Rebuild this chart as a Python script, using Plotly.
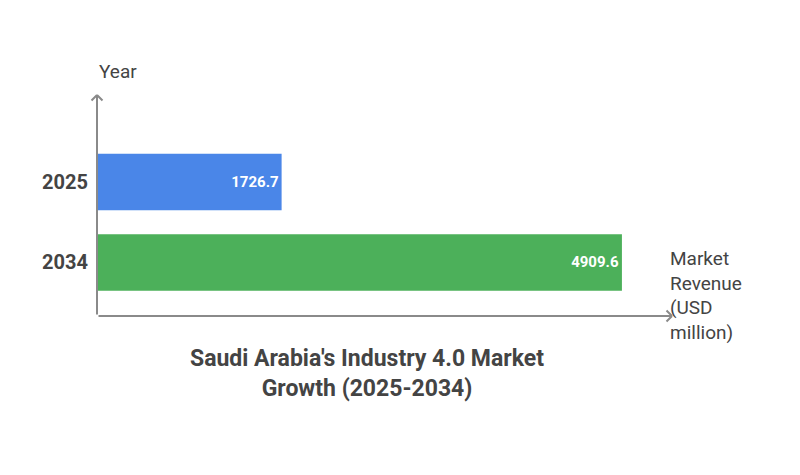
import plotly.graph_objects as go

years = ["2034", "2025"]
revenue = [4909.6, 1726.7]
bar_colors = ["#4cb05a", "#4a86e8"]
labels = ["4909.6", "1726.7"]

fig = go.Figure()
fig.add_trace(go.Bar(
    x=revenue, y=[0, 1], orientation="h", width=0.7,
    marker_color=bar_colors, marker_line_width=0,
    text=labels, textposition="inside", insidetextanchor="end",
    textfont=dict(family="Roboto", size=15, color="white", weight="bold"),
    cliponaxis=False,
))

axis_col = "#8a8a8a"
fig.update_layout(
    width=800, height=475,
    margin=dict(l=89, r=136, t=87, b=167),
    paper_bgcolor="white", plot_bgcolor="white",
    showlegend=False,
    font=dict(family="Roboto", color="#444"),
    xaxis=dict(range=[0, 5378], showgrid=False, zeroline=False,
               showticklabels=False, showline=False),
    yaxis=dict(range=[-0.665, 2.08], showgrid=False, zeroline=False,
               tickmode="array", tickvals=[0, 1], ticktext=years,
               tickfont=dict(size=20, color="#444", weight="bold"),
               ticks="", ticklen=0, showline=False, ticklabelstandoff=8),
)

# axes with arrows
fig.add_annotation(x=1.0, y=0, xref="paper", yref="paper", ax=-575, ay=0,
                   showarrow=True, arrowhead=0, arrowwidth=2, arrowcolor=axis_col, text="")
fig.add_annotation(x=0, y=1.0, xref="paper", yref="paper", ax=0, ay=221,
                   showarrow=True, arrowhead=0, arrowwidth=2, arrowcolor=axis_col, text="")
# arrowheads as chevrons
for dx, dy in [(-7, -7), (-7, 7)]:
    fig.add_annotation(x=1.0, y=0, xref="paper", yref="paper", ax=dx, ay=dy,
                       showarrow=True, arrowhead=0, arrowwidth=2, arrowcolor=axis_col, text="")
for dx, dy in [(-7, 7), (7, 7)]:
    fig.add_annotation(x=0, y=1.0, xref="paper", yref="paper", ax=dx, ay=dy,
                       showarrow=True, arrowhead=0, arrowwidth=2, arrowcolor=axis_col, text="")

fig.add_annotation(x=0, y=1.0, xref="paper", yref="paper", yanchor="bottom", yshift=10,
                   text="Year", showarrow=False, font=dict(size=19, color="#444"))
fig.add_annotation(x=1.0, y=0.32, xref="paper", yref="paper", xanchor="left", yanchor="top",
                   xshift=-4, align="left",
                   text="Market<br>Revenue<br>(USD<br>million)", showarrow=False,
                   font=dict(size=19, color="#444"))
fig.add_annotation(x=0.47, y=-0.12, xref="paper", yref="paper", xanchor="center", yanchor="top",
                   text="Saudi Arabia's Industry 4.0 Market<br>Growth (2025-2034)",
                   showarrow=False, font=dict(size=23, color="#444", weight="bold"))

fig.write_html("out.html")
